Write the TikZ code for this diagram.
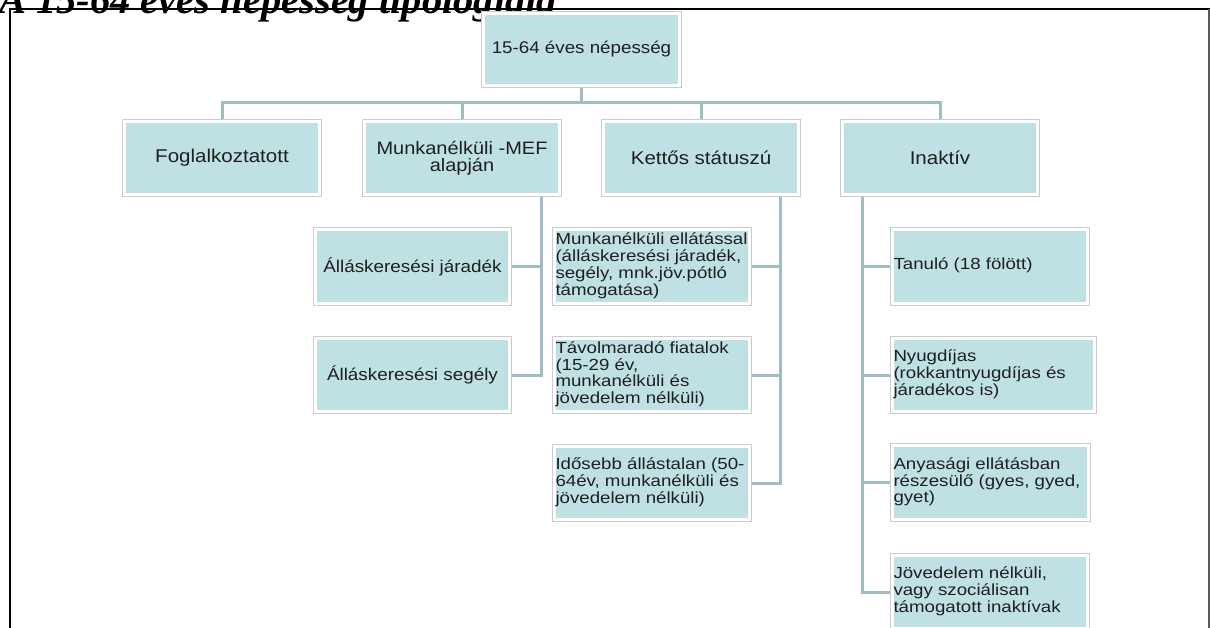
\documentclass[tikz,border=0pt]{standalone}
\usepackage{fontspec}
\setmainfont{Liberation Sans}
\newfontfamily\mainbox{Liberation Sans}[FakeStretch=1.11]
\newfontfamily\leafbox{Liberation Sans}[FakeStretch=1.16]
\newfontfamily\titlefont{Liberation Serif}
\definecolor{boxfill}{RGB}{191,225,228}
\definecolor{conncol}{RGB}{160,189,194}
\newcommand\leaflines[2]{\makebox[#1][l]{\begin{tabular}{@{}l@{}}#2\end{tabular}}}
\pgfdeclarelayer{bg}
\pgfsetlayers{bg,main}
\begin{document}
\begin{tikzpicture}[x=1pt,y=-1pt,
  box/.style={fill=boxfill, draw=white, line width=3pt,
    preaction={draw=black!20, line width=4.4pt},
    inner sep=0pt, outer sep=2.2pt, align=center, text=black!88},
  sz/.style 2 args={minimum width=#1-4.4, minimum height=#2-4.4},
  mainf/.style={font=\mainbox\fontsize{18.5}{19}\selectfont},
  subf/.style={font=\mainbox\fontsize{17}{19}\selectfont},
  leaff/.style={font=\leafbox\fontsize{16.1}{16.5}\selectfont},
  conn/.style={draw=conncol, line width=3pt, line cap=rect}]
\useasboundingbox (0,0) rectangle (1210,628);
\clip (0,0) rectangle (1210,628);
% title (cut off at top, as in the reference)
\node[anchor=base west, inner sep=0pt, font=\titlefont\bfseries\itshape\fontsize{40.5}{44}\selectfont] (title) at (-1,14) {A 15-64 éves népesség tipológiája};
% frame
\draw[line width=2pt] (10,628) -- (10,9) -- (1210,9);
\draw[black!65, line width=1.5pt] (1209,9) -- (1209,628);
% top
\node[box, sz={201}{77}, font=\mainbox\fontsize{16.9}{19}\selectfont] (top) at (581.5,49.5) {15-64 éves népesség};
% level 1
\node[box, sz={200}{78}, mainf] (f) at (222,158) {Foglalkoztatott};
\node[box, sz={200}{78}, font=\mainbox\fontsize{18}{16.5}\selectfont] (m) at (462,158) {Munkanélküli -MEF\\alapján};
\node[box, sz={200}{78}, mainf] (k) at (701,158) {Kettős státuszú};
\node[box, sz={200}{78}, mainf] (i) at (940,158) {Inaktív};
% Munkanélküli children
\node[box, sz={199}{79}, subf] (m1) at (412.5,266.5) {Álláskeresési járadék};
\node[box, sz={199}{78}, subf] (m2) at (412.5,375) {Álláskeresési segély};
% Kettős children
\node[box, sz={200}{79}, leaff] (k1) at (652,266.5) {\leaflines{193pt}{Munkanélküli ellátással\\(álláskeresési járadék,\\segély, mnk.jöv.pótló\\támogatása)}};
\node[box, sz={200}{78}, leaff] (k2) at (652,375) {\leaflines{193pt}{Távolmaradó fiatalok\\(15-29 év,\\munkanélküli és\\jövedelem nélküli)}};
\node[box, sz={200}{78}, leaff] (k3) at (652,483) {\leaflines{193pt}{Idősebb állástalan (50-\\64év, munkanélküli és\\jövedelem nélküli)}};
% Inaktív children
\node[box, sz={200}{79}, leaff] (i1) at (990,266.5) {\leaflines{193pt}{Tanuló (18 fölött)}};
\node[box, sz={207}{78}, leaff] (i2) at (993.5,375) {\leaflines{200pt}{Nyugdíjas\\(rokkantnyugdíjas és\\járadékos is)}};
\node[box, sz={201}{79}, leaff] (i3) at (990.5,482.5) {\leaflines{194pt}{Anyasági ellátásban\\részesülő (gyes, gyed,\\gyet)}};
\node[box, sz={200}{78}, leaff] (i4) at (990,592) {\leaflines{193pt}{Jövedelem nélküli,\\vagy szociálisan\\támogatott inaktívak}};
% connectors
\coordinate (bus) at (0,103);
\coordinate (mv) at (541,0);
\coordinate (kv) at (780,0);
\coordinate (iv) at (862,0);
\begin{pgfonlayer}{bg}
\draw[conn] (top.south) -- (top.south |- bus);
\draw[conn] (f.north) -- (f.north |- bus) -- (i.north |- bus) -- (i.north);
\draw[conn] (m.north) -- (m.north |- bus);
\draw[conn] (k.north) -- (k.north |- bus);
\draw[conn] (m.south -| mv) -- (mv |- m2.east) -- (m2.east);
\draw[conn] (m1.east) -- (mv |- m1.east);
\draw[conn] (k.south -| kv) -- (kv |- k3.east) -- (k3.east);
\draw[conn] (k1.east) -- (kv |- k1.east);
\draw[conn] (k2.east) -- (kv |- k2.east);
\draw[conn] (i.south -| iv) -- (iv |- i4.west) -- (i4.west);
\draw[conn] (iv |- i1.west) -- (i1.west);
\draw[conn] (iv |- i2.west) -- (i2.west);
\draw[conn] (iv |- i3.west) -- (i3.west);
\end{pgfonlayer}
\end{tikzpicture}
\end{document}
